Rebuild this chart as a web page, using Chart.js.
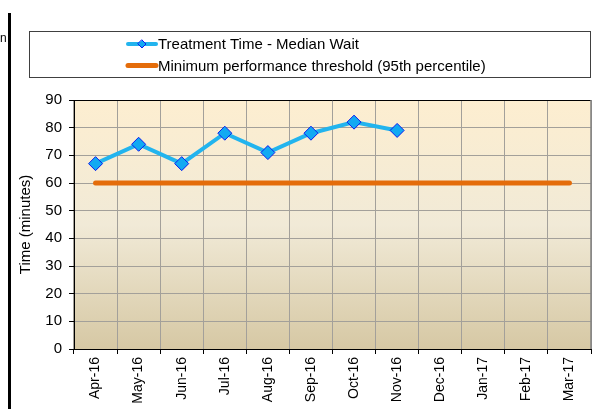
<!DOCTYPE html>
<html>
<head>
<meta charset="utf-8">
<title>Treatment Time - Median Wait</title>
<script src="https://cdn.jsdelivr.net/npm/chart.js@4.4.1/dist/chart.umd.min.js"></script>
<style>
  html, body { margin: 0; padding: 0; background: #fff; }
  #wrap { position: relative; width: 616px; height: 409px; overflow: hidden; }
  #bar { position: absolute; left: 8px; top: 13px; width: 3px; height: 396px; background: #000; }
  #frag { position: absolute; left: 0px; top: 31px; font: 12px "Liberation Sans", Arial, sans-serif; color: #000; }
</style>
</head>
<body>
<div id="wrap">
  <canvas id="chart" width="616" height="409"></canvas>
  <div id="bar"></div>
  <div id="frag">n</div>
</div>
<script>
(function(){
  // months shown on the x axis
  const MONTHS = ['Apr-16','May-16','Jun-16','Jul-16','Aug-16','Sep-16','Oct-16','Nov-16','Dec-16','Jan-17','Feb-17','Mar-17'];
  // median wait (minutes), Dec-Mar not reported yet
  const MEDIAN_WAIT = [67, 74, 67, 78, 71, 78, 82, 79, null, null, null, null];
  // 95th percentile threshold
  const THRESHOLD = [60, 60, 60, 60, 60, 60, 60, 60, 60, 60, 60, 60];
  const Y_TICKS = { min: 0, max: 90, step: 10 };

  const FONT = '"Liberation Sans", Arial, sans-serif';
  const CYAN = '#22b4ee', BLUE = '#0a1cf0', ORANGE = '#e46c0a';

  // plot background + frame
  const plotBg = {
    id: 'plotBg',
    beforeDraw(chart){
      const { ctx, chartArea: a } = chart;
      const g = ctx.createLinearGradient(0, a.top, 0, a.bottom);
      g.addColorStop(0, '#fdeed0');
      g.addColorStop(0.5, '#f1ead7');
      g.addColorStop(1, '#d6c8a4');
      ctx.save();
      ctx.fillStyle = g;
      ctx.fillRect(a.left, a.top, a.right - a.left, a.bottom - a.top);
      ctx.restore();
    },
    afterDatasetsDraw(chart){
      const { ctx, chartArea: a } = chart;
      ctx.save();
      ctx.lineWidth = 1;
      ctx.strokeStyle = '#000';
      ctx.beginPath(); ctx.moveTo(a.left, a.top + 0.5); ctx.lineTo(a.right, a.top + 0.5); ctx.stroke();
      ctx.strokeStyle = '#808080';
      ctx.lineWidth = 1.5;
      ctx.beginPath(); ctx.moveTo(a.right, a.top); ctx.lineTo(a.right, a.bottom); ctx.stroke();
      ctx.restore();
    }
  };

  // legend box: items stacked, left aligned
  const boxLegend = {
    id: 'boxLegend',
    afterDraw(chart){
      const ctx = chart.ctx;
      const ds = chart.data.datasets;
      ctx.save();
      ctx.strokeStyle = '#404040';
      ctx.lineWidth = 1;
      ctx.strokeRect(29.5, 31.5, 561, 46);
      const rows = [44, 65.5];
      ds.forEach((d, i) => {
        const y = rows[i];
        ctx.strokeStyle = d.borderColor;
        ctx.lineWidth = d.borderWidth;
        ctx.lineCap = 'round';
        ctx.beginPath(); ctx.moveTo(128, y); ctx.lineTo(156, y); ctx.stroke();
        if (d.pointRadius > 0) {
          const r = 4;
          ctx.fillStyle = d.pointBackgroundColor;
          ctx.strokeStyle = d.pointBorderColor;
          ctx.lineWidth = 1;
          ctx.beginPath();
          ctx.moveTo(142, y - r); ctx.lineTo(142 + r, y); ctx.lineTo(142, y + r); ctx.lineTo(142 - r, y); ctx.closePath();
          ctx.fill(); ctx.stroke();
        }
        ctx.fillStyle = '#000';
        ctx.font = '15px ' + FONT;
        ctx.textAlign = 'left';
        ctx.textBaseline = 'middle';
        ctx.fillText(d.label, 158, y + 1);
      });
      ctx.restore();
    }
  };

  const grid = { color: '#a3a09a', borderDash: [1, 1], lineWidth: 1, tickColor: '#000', tickLength: 5, tickBorderDash: [] };

  new Chart(document.getElementById('chart'), {
    type: 'line',
    data: {
      labels: MONTHS,
      datasets: [
        { label: 'Treatment Time - Median Wait', data: MEDIAN_WAIT, borderColor: CYAN, borderWidth: 4,
          pointStyle: 'rectRot', pointRadius: 7, pointHoverRadius: 7, pointBackgroundColor: '#11a9f2',
          pointBorderColor: BLUE, pointBorderWidth: 1, tension: 0, spanGaps: false },
        { label: 'Minimum performance threshold (95th percentile)', data: THRESHOLD, borderColor: ORANGE,
          borderWidth: 5, borderCapStyle: 'round', pointRadius: 0, tension: 0 }
      ]
    },
    options: {
      responsive: false,
      animation: false,
      layout: { padding: { top: 100, right: 25, left: 0, bottom: 0 } },
      plugins: { legend: { display: false }, tooltip: { enabled: false } },
      scales: {
        x: {
          offset: true,
          grid: Object.assign({ offset: true }, grid),
          border: { color: '#000', width: 1 },
          ticks: { minRotation: 90, maxRotation: 90, padding: 3, color: '#000', font: { family: FONT, size: 14 } },
          afterFit(s){ s.height = 60; }
        },
        y: {
          min: Y_TICKS.min, max: Y_TICKS.max,
          grid: grid,
          border: { color: '#000', width: 1 },
          ticks: { stepSize: Y_TICKS.step, padding: 7, color: '#000', font: { family: FONT, size: 15 } },
          title: { display: true, text: 'Time (minutes)', color: '#000', font: { family: FONT, size: 15 }, padding: { top: 17, bottom: 0 } },
          afterFit(s){ s.width = 74; }
        }
      }
    },
    plugins: [plotBg, boxLegend]
  });
})();
</script>
</body>
</html>
